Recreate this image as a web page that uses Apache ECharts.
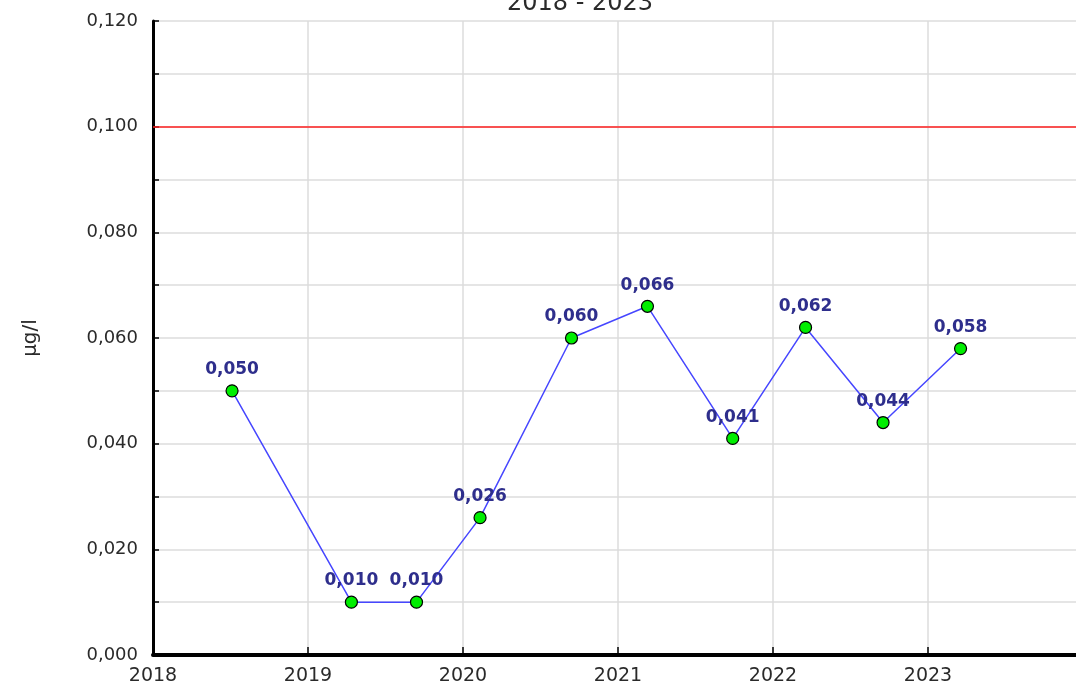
<!DOCTYPE html>
<html lang="de">
<head>
	<meta charset="UTF-8">
	<title>2018 - 2023</title>
	<script src="https://cdn.jsdelivr.net/npm/echarts@6/dist/echarts.min.js"></script>
	<style>
		html, body { margin: 0; padding: 0; background: #fff; }
		#main { width: 1076px; height: 689px; }
	</style>
</head>
<body>
<div id="main"></div>
<script>
// Messzeitpunkte (Jahr als Dezimalzahl) und Messwerte in µg/l
var zeitpunkte = [2018.51, 2019.28, 2019.70, 2020.11, 2020.70, 2021.19, 2021.74, 2022.21, 2022.71, 2023.21];
var werte = [0.050, 0.010, 0.010, 0.026, 0.060, 0.066, 0.041, 0.062, 0.044, 0.058];
var grenzwert = 0.100;
var jahrMin = 2018, jahrMax = 2024;
var yMin = 0, yMax = 0.120;

function komma(v) {
	return v.toFixed(3).replace('.', ',');
}

var punkte = [];
for (var i = 0; i < zeitpunkte.length; i++) {
	punkte.push([zeitpunkte[i], werte[i]]);
}

var schrift = 'DejaVu Sans, Verdana, sans-serif';
var myChart = echarts.init(document.getElementById('main'));
var option = {
	animation: false,
	textStyle: { fontFamily: schrift },
	title: {
		text: '2018 - 2023',
		left: 575,
		textAlign: 'center',
		top: -13,
		textStyle: { fontSize: 24, fontWeight: 'normal', color: '#2a2a2a', fontFamily: schrift }
	},
	// Plotfläche läuft rechts etwas über den Bildrand hinaus
	grid: { left: 153, top: 21, width: 930, bottom: 34, containLabel: false, outerBoundsMode: 'none' },
	xAxis: [{
		type: 'value',
		min: jahrMin,
		max: jahrMax,
		interval: 1,
		axisLine: { onZero: false, lineStyle: { color: '#000', width: 4 } },
		axisTick: { inside: true, length: 8, lineStyle: { color: '#000', width: 1.5 } },
		axisLabel: {
			margin: 12,
			fontSize: 19,
			color: '#2a2a2a',
			showMaxLabel: false,
			formatter: function (v) { return v >= jahrMax ? '' : String(v); }
		},
		splitLine: { show: true, lineStyle: { color: '#dcdcdc', width: 1.5 } }
	}, {
		// obere Rahmenlinie
		type: 'value',
		position: 'top',
		min: jahrMin,
		max: jahrMax,
		axisLine: { lineStyle: { color: '#000', width: 2 } },
		axisTick: { show: false },
		axisLabel: { show: false },
		splitLine: { show: false }
	}],
	yAxis: {
		type: 'value',
		min: yMin,
		max: yMax,
		interval: 0.01,
		name: 'µg/l',
		nameLocation: 'middle',
		nameRotate: 90,
		nameGap: 112,
		nameTextStyle: { fontSize: 20, color: '#2a2a2a' },
		axisLine: { show: true, lineStyle: { color: '#000', width: 3 } },
		axisTick: { inside: true, length: 6, lineStyle: { color: '#000', width: 1.5 } },
		axisLabel: {
			margin: 15,
			fontSize: 18,
			color: '#2a2a2a',
			formatter: function (v) {
				var n = Math.round(v * 1000);
				return (n % 20 === 0) ? komma(v) : '';
			}
		},
		splitLine: { show: true, lineStyle: { color: '#dcdcdc', width: 1.5 } }
	},
	series: [{
		name: 'Messwert',
		type: 'line',
		data: punkte,
		symbol: 'circle',
		symbolSize: 12,
		lineStyle: { color: '#4646ff', width: 1.5 },
		itemStyle: { color: '#00ee00', borderColor: '#000', borderWidth: 1.2 },
		label: {
			show: true,
			position: 'top',
			distance: 6,
			fontSize: 17,
			fontWeight: 'bold',
			color: '#2e2e8c',
			formatter: function (p) { return komma(p.value[1]); }
		},
		markLine: {
			silent: true,
			symbol: 'none',
			label: { show: false },
			lineStyle: { color: '#ff2020', type: 'solid', width: 1.5 },
			data: [{ yAxis: grenzwert }]
		},
		z: 5
	}]
};
myChart.setOption(option);
</script>
</body>
</html>
